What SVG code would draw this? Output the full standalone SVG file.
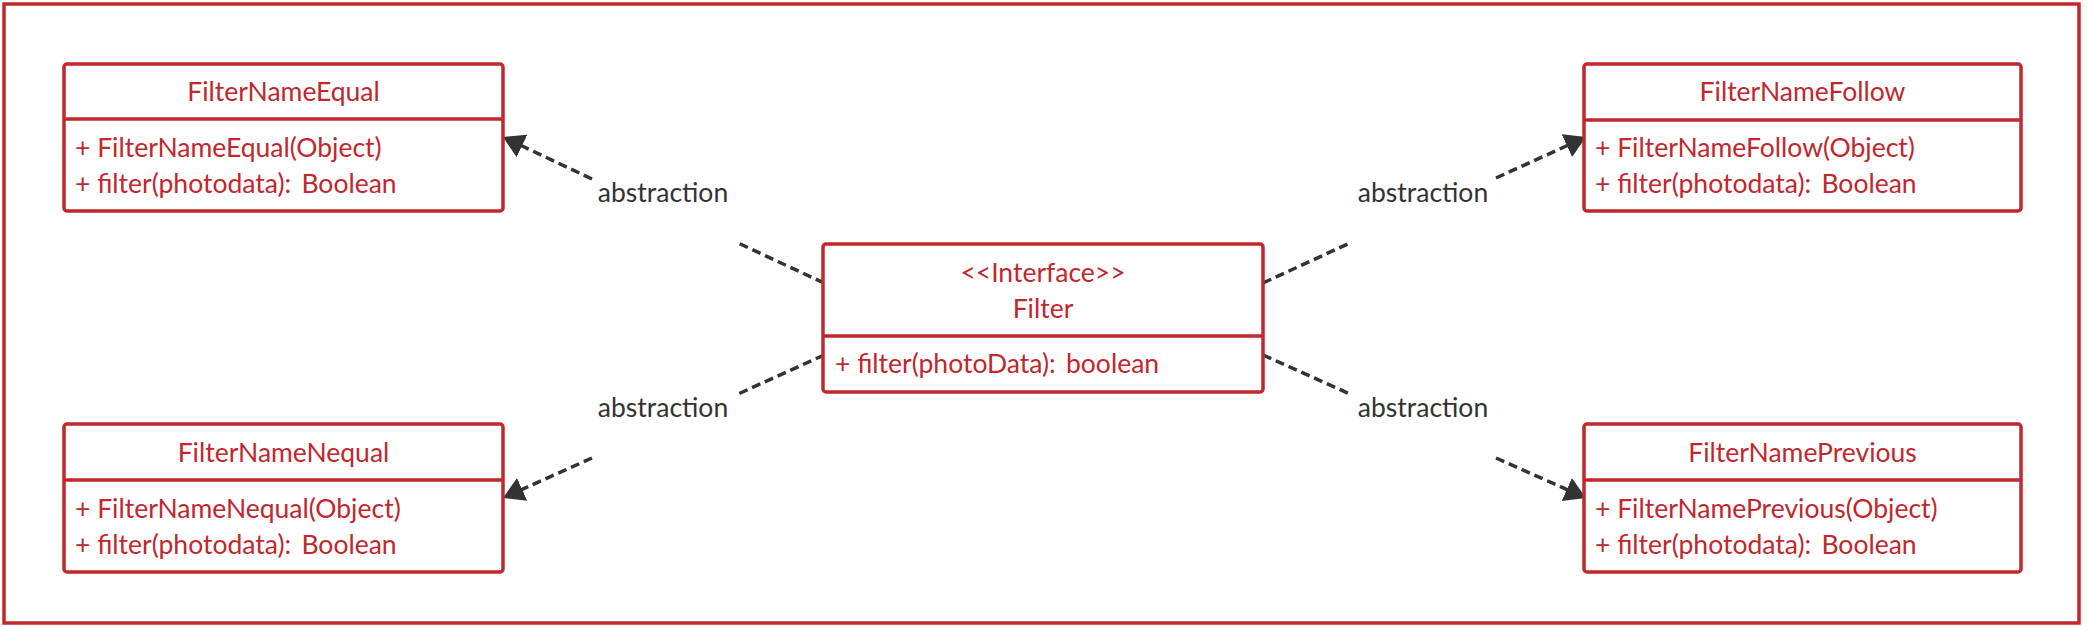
<svg xmlns="http://www.w3.org/2000/svg" width="2087" height="627" viewBox="0 0 2087 627">
<defs>
<style>
.frame{fill:#fff;stroke:#C1272D;stroke-width:3.5}
.box{fill:#fff;stroke:#C1272D;stroke-width:3.5}
.div{stroke:#C1272D;stroke-width:3.5}
.t{font-family:Lato,"Noto Sans",sans-serif;font-size:26.5px;fill:#C1272D}
.c{text-anchor:middle}
.lbl{font-family:Lato,"Noto Sans",sans-serif;font-size:26.5px;fill:#333;text-anchor:middle}
.ln{fill:none;stroke:#333;stroke-width:3.5;stroke-dasharray:9 5}
</style>
<marker id="arr" markerUnits="userSpaceOnUse" markerWidth="26" markerHeight="26" refX="21" refY="12.5" orient="auto" viewBox="0 0 26 26">
<path d="M0,0 L21,12.5 L0,25 Z" fill="#333"/>
</marker>
</defs>
<rect x="0" y="0" width="2087" height="627" fill="#fff"/>
<rect class="frame" x="4" y="4" width="2075" height="619"/>

<g id="connectors">
<path class="ln" d="M824,283 L736,242"/>
<path class="ln" d="M592,179 L503,137" marker-end="url(#arr)"/>
<text class="lbl" x="663" y="202">abstraction</text>
<path class="ln" d="M824,355 L736,395"/>
<path class="ln" d="M592,458 L503,498" marker-end="url(#arr)"/>
<text class="lbl" x="663" y="417">abstraction</text>
<path class="ln" d="M1263,283 L1352,242"/>
<path class="ln" d="M1496,178 L1586,137" marker-end="url(#arr)"/>
<text class="lbl" x="1423" y="202">abstraction</text>
<path class="ln" d="M1263,355 L1352,395"/>
<path class="ln" d="M1496,458 L1586,498" marker-end="url(#arr)"/>
<text class="lbl" x="1423" y="417">abstraction</text>
</g>

<g id="FilterNameEqual">
<rect class="box" x="64" y="64" width="439" height="147" rx="3"/>
<line class="div" x1="64" y1="119" x2="503" y2="119"/>
<text class="t c" x="283.5" y="101">FilterNameEqual</text>
<text class="t" x="75" y="157">+ FilterNameEqual(Object)</text>
<text class="t" x="75" y="193">+ filter(photodata): <tspan dx="3.5">Boolean</tspan></text>
</g>

<g id="FilterNameNequal">
<rect class="box" x="64" y="424" width="439" height="148" rx="3"/>
<line class="div" x1="64" y1="480" x2="503" y2="480"/>
<text class="t c" x="283.5" y="462">FilterNameNequal</text>
<text class="t" x="75" y="518">+ FilterNameNequal(Object)</text>
<text class="t" x="75" y="554">+ filter(photodata): <tspan dx="3.5">Boolean</tspan></text>
</g>

<g id="FilterNameFollow">
<rect class="box" x="1584" y="64" width="437" height="147" rx="3"/>
<line class="div" x1="1584" y1="120" x2="2021" y2="120"/>
<text class="t c" x="1802.5" y="101">FilterNameFollow</text>
<text class="t" x="1595" y="157">+ FilterNameFollow(Object)</text>
<text class="t" x="1595" y="193">+ filter(photodata): <tspan dx="3.5">Boolean</tspan></text>
</g>

<g id="FilterNamePrevious">
<rect class="box" x="1584" y="424" width="437" height="148" rx="3"/>
<line class="div" x1="1584" y1="480" x2="2021" y2="480"/>
<text class="t c" x="1802.5" y="462">FilterNamePrevious</text>
<text class="t" x="1595" y="518">+ FilterNamePrevious(Object)</text>
<text class="t" x="1595" y="554">+ filter(photodata): <tspan dx="3.5">Boolean</tspan></text>
</g>

<g id="Filter">
<rect class="box" x="823" y="244" width="440" height="148" rx="3"/>
<line class="div" x1="823" y1="336" x2="1263" y2="336"/>
<text class="t c" x="1043" y="282">&lt;&lt;Interface&gt;&gt;</text>
<text class="t c" x="1043" y="318">Filter</text>
<text class="t" x="835" y="373">+ filter(photoData): <tspan dx="3.5">boolean</tspan></text>
</g>
</svg>
